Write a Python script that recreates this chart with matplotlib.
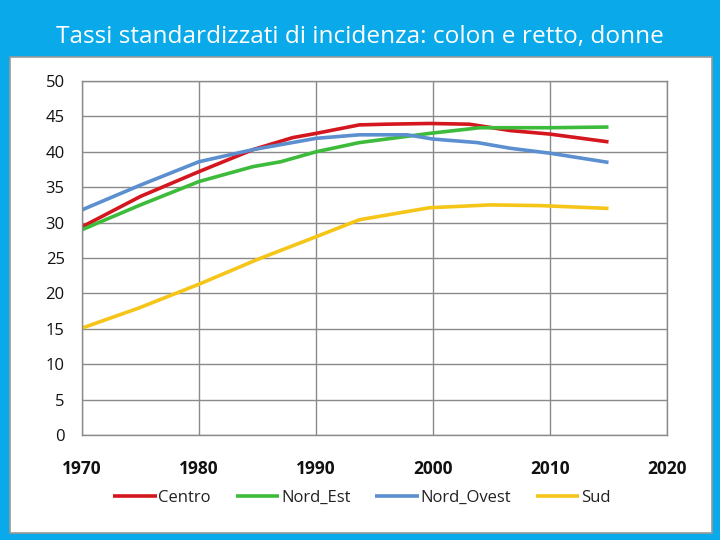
import matplotlib
matplotlib.use("Agg")
import matplotlib.pyplot as plt
from matplotlib.patches import Rectangle

title = "Tassi standardizzati di incidenza: colon e retto, donne"

centro_years = [1970, 1975, 1980, 1984.6, 1988, 1990, 1993.7, 1996, 1999.7, 2003.1, 2006.6, 2010, 2015]
centro_vals  = [29.4, 33.7, 37.2, 40.3, 42.0, 42.6, 43.8, 43.9, 44.0, 43.9, 43.0, 42.5, 41.4]

nordest_years = [1970, 1975, 1980, 1984.6, 1987, 1990, 1993.7, 1999.7, 2004, 2010, 2015]
nordest_vals  = [29.0, 32.5, 35.8, 37.9, 38.6, 40.0, 41.3, 42.6, 43.4, 43.4, 43.5]

nordovest_years = [1970, 1975, 1980, 1984.6, 1990, 1993.7, 1997.8, 2000, 2003.8, 2006.6, 2010, 2015]
nordovest_vals  = [31.8, 35.3, 38.6, 40.3, 41.9, 42.4, 42.4, 41.8, 41.3, 40.5, 39.8, 38.5]

sud_years = [1970, 1974.8, 1980, 1985, 1990, 1993.7, 1999.7, 2004.9, 2009.2, 2015]
sud_vals  = [15.1, 17.9, 21.3, 24.8, 28.0, 30.4, 32.1, 32.5, 32.4, 32.0]

series = [
    ("Centro", centro_years, centro_vals, "#d4161e"),
    ("Nord_Est", nordest_years, nordest_vals, "#3dbb3a"),
    ("Nord_Ovest", nordovest_years, nordovest_vals, "#5b8fcf"),
    ("Sud", sud_years, sud_vals, "#f5c518"),
]

x_ticks = [1970, 1980, 1990, 2000, 2010, 2020]
y_ticks = [0, 5, 10, 15, 20, 25, 30, 35, 40, 45, 50]

tickfont = "Open Sans"

fig = plt.figure(figsize=(7.2, 5.4), dpi=100)
fig.patch.set_facecolor("#0aaaea")

# white inner panel
panel = Rectangle((10/720, 1-533/540), 702/720, 476/540, transform=fig.transFigure,
                  facecolor="white", edgecolor="#9a9a9a", linewidth=1.2, zorder=-5)
fig.patches.append(panel)

fig.text(0.5, 1-37/540, title, color="white", ha="center", va="center",
         fontsize=17.6, family="Open Sans")

ax = fig.add_axes([82/720, 1-435/540, 585/720, 354/540])
ax.set_zorder(2)
ax.set_facecolor("white")
for name, xs, ys, c in series:
    ax.plot(xs, ys, color=c, lw=2.6, label=name, solid_capstyle="butt")

ax.set_xlim(1970, 2020)
ax.set_ylim(0, 50)
ax.set_xticks(x_ticks)
ax.set_yticks(y_ticks)
ax.grid(True, color="#8a8a8a", lw=1.0)
ax.set_axisbelow(True)
for s in ax.spines.values():
    s.set_color("#8a8a8a")
    s.set_linewidth(1.0)
ax.tick_params(length=0)
ax.tick_params(axis="y", pad=12.5, labelsize=12, labelcolor="#111111")
ax.tick_params(axis="x", pad=18, labelsize=12.5, labelcolor="#111111")
for lab in ax.get_yticklabels():
    lab.set_family(tickfont)
for lab in ax.get_xticklabels():
    lab.set_family(tickfont)
    lab.set_fontweight("bold")

leg = fig.legend(loc="center", bbox_to_anchor=(362/720, 1-498/540), ncol=4, frameon=False,
                 handlelength=2.6, handletextpad=0.1, columnspacing=1.5,
                 prop={"family": tickfont, "size": 12})
for t in leg.get_texts():
    t.set_color("#222222")

fig.savefig("out.png", dpi=100, facecolor=fig.get_facecolor())
